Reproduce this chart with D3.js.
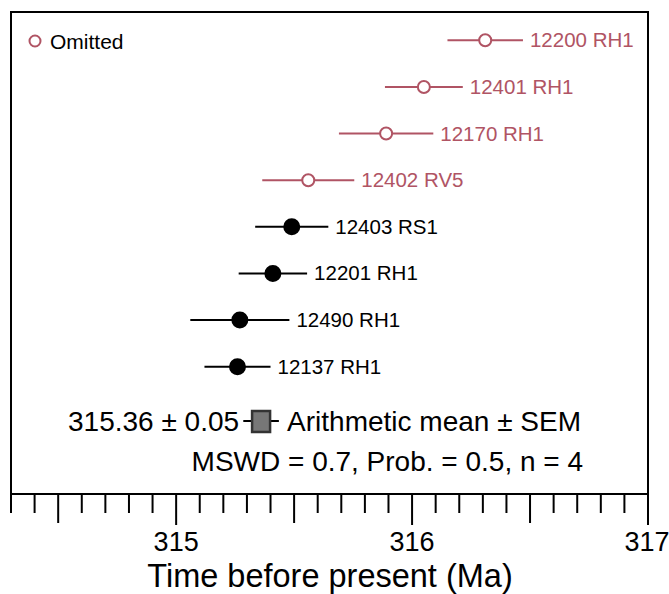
<!DOCTYPE html>
<html>
<head>
<meta charset="utf-8">
<script src="https://cdn.jsdelivr.net/npm/d3@7"></script>
<style>
  body { margin: 0; background: #fff; }
  svg { font-family: "Liberation Sans", Arial, Helvetica, sans-serif; }
</style>
</head>
<body>
<svg width="669" height="594"></svg>
<script>
// sample ages (Ma) and 2-sigma half widths, top to bottom
var samples = ["12200 RH1", "12401 RH1", "12170 RH1", "12402 RV5", "12403 RS1", "12201 RH1", "12490 RH1", "12137 RH1"];
var ages = [316.31, 316.05, 315.89, 315.56, 315.49, 315.41, 315.27, 315.26];
var errs = [0.16, 0.165, 0.2, 0.195, 0.155, 0.145, 0.21, 0.14];
var omitted = [true, true, true, true, false, false, false, false];

var meanAge = 315.36, meanErr = 0.05;
var statsText = "MSWD = 0.7, Prob. = 0.5, n = 4";
var tickLabels = [315, 316, 317];

var red = "#b05464";

var svg = d3.select("svg"),
    width = +svg.attr("width"),
    height = +svg.attr("height");

var boxL = 11, boxR = 648, boxT = 12, boxB = 494;

var x = d3.scaleLinear()
    .domain([314.3, 317])
    .range([boxL, boxR]);

var y = d3.scaleBand()
    .domain(samples)
    .range([17, 390]);

// frame
svg.append("rect")
    .attr("x", boxL)
    .attr("y", boxT)
    .attr("width", boxR - boxL)
    .attr("height", boxB - boxT)
    .attr("fill", "none")
    .attr("stroke", "#000")
    .attr("stroke-width", 2);

// ticks: every 0.1, medium at 0.5, long at whole
var ticks = d3.range(0, 28).map(function (i) { return +(314.3 + i * 0.1).toFixed(1); });
var axis = svg.append("g");
axis.selectAll("line")
    .data(ticks)
    .enter().append("line")
    .attr("x1", function (d) { return x(d); })
    .attr("x2", function (d) { return x(d); })
    .attr("y1", boxB)
    .attr("y2", function (d) {
        var r = Math.round(d * 10) % 10;
        if (r == 0) return boxB + 31;
        if (r == 5) return boxB + 29;
        return boxB + 19;
    })
    .attr("stroke", "#000")
    .attr("stroke-width", 2);

axis.selectAll("text")
    .data(tickLabels)
    .enter().append("text")
    .attr("x", function (d) { return x(d) - (d == 317 ? 1 : 0); })
    .attr("y", 551)
    .attr("text-anchor", "middle")
    .attr("font-size", 27)
    .text(function (d) { return d; });

svg.append("text")
    .attr("x", 330)
    .attr("y", 587)
    .attr("text-anchor", "middle")
    .attr("font-size", 32.5)
    .text("Time before present (Ma)");

// error bars
var rows = svg.append("g").selectAll("g")
    .data(samples)
    .enter().append("g")
    .attr("transform", function (d) { return "translate(0," + (y(d) + y.bandwidth() / 2) + ")"; });

rows.append("line")
    .attr("x1", function (d, i) { return x(ages[i] - errs[i]); })
    .attr("x2", function (d, i) { return x(ages[i] + errs[i]); })
    .attr("stroke", function (d, i) { return omitted[i] ? red : "#000"; })
    .attr("stroke-width", 2);

rows.append("circle")
    .attr("cx", function (d, i) { return x(ages[i]); })
    .attr("r", function (d, i) { return omitted[i] ? 6 : 7.5; })
    .attr("fill", function (d, i) { return omitted[i] ? "#fff" : "#000"; })
    .attr("stroke", function (d, i) { return omitted[i] ? red : "#000"; })
    .attr("stroke-width", 2);

rows.append("text")
    .attr("x", function (d, i) { return x(ages[i] + errs[i]) + 7; })
    .attr("y", 7)
    .attr("font-size", 20.5)
    .attr("fill", function (d, i) { return omitted[i] ? red : "#000"; })
    .text(function (d) { return d; });

// legend
svg.append("circle")
    .attr("cx", 35)
    .attr("cy", 41)
    .attr("r", 5.5)
    .attr("fill", "#fff")
    .attr("stroke", red)
    .attr("stroke-width", 2);
svg.append("text")
    .attr("x", 50)
    .attr("y", 48.5)
    .attr("font-size", 21)
    .text("Omitted");

// mean
var my = 421;
svg.append("line")
    .attr("x1", x(meanAge - meanErr) - 6)
    .attr("x2", x(meanAge + meanErr) + 6)
    .attr("y1", my)
    .attr("y2", my)
    .attr("stroke", "#000")
    .attr("stroke-width", 2);
svg.append("rect")
    .attr("x", x(meanAge) - 9)
    .attr("y", my - 10)
    .attr("width", 18)
    .attr("height", 21)
    .attr("fill", "#777")
    .attr("stroke", "#333")
    .attr("stroke-width", 2.5);

svg.append("text")
    .attr("x", x(meanAge) - 22)
    .attr("y", my + 10)
    .attr("text-anchor", "end")
    .attr("font-size", 28)
    .text(meanAge.toFixed(2) + " \u00b1 " + meanErr.toFixed(2));
svg.append("text")
    .attr("x", x(meanAge) + 26)
    .attr("y", my + 10)
    .attr("font-size", 28)
    .text("Arithmetic mean \u00b1 SEM");
svg.append("text")
    .attr("x", 583)
    .attr("y", 471)
    .attr("text-anchor", "end")
    .attr("font-size", 28)
    .text(statsText);
</script>
</body>
</html>
